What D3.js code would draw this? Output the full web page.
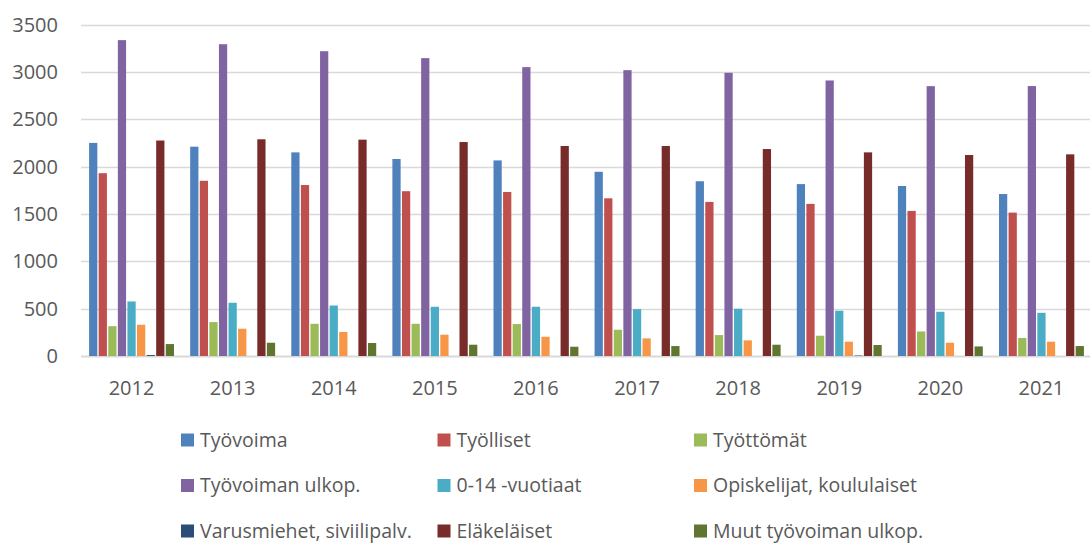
<!DOCTYPE html>
<html>
<head>
<meta charset="utf-8">
<script src="https://cdn.jsdelivr.net/npm/d3@7"></script>
<style>
  body { margin: 0; background: #fff; }
  text { font-family: "Open Sans", "Liberation Sans", sans-serif; fill: #595959; }
</style>
</head>
<body>
<svg id="chart"></svg>
<script>
// years on the x axis
var years = ["2012", "2013", "2014", "2015", "2016", "2017", "2018", "2019", "2020", "2021"];

// series names (legend order)
var seriesNames = ["Työvoima", "Työlliset", "Työttömät", "Työvoiman ulkop.", "0-14 -vuotiaat",
                   "Opiskelijat, koululaiset", "Varusmiehet, siviilipalv.", "Eläkeläiset", "Muut työvoiman ulkop."];

var seriesColors = ["#4F81BD", "#C0504D", "#9BBB59", "#8064A2", "#4BACC6",
                    "#F79646", "#2C4D75", "#772C2A", "#5F7530"];

// values per series, one per year
var tyovoima     = [2250, 2210, 2150, 2080, 2065, 1945, 1845, 1815, 1795, 1710];
var tyolliset    = [1930, 1850, 1805, 1740, 1732, 1665, 1627, 1606, 1532, 1514];
var tyottomat    = [315, 358, 340, 340, 337, 277, 221, 214, 259, 190];
var ulkop        = [3335, 3292, 3218, 3145, 3050, 3018, 2990, 2909, 2849, 2850];
var lapset       = [576, 562, 533, 520, 520, 495, 499, 478, 467, 456];
var opiskelijat  = [330, 288, 253, 225, 203, 186, 165, 151, 140, 151];
var varusmiehet  = [10, 0, 0, 0, 0, 0, 0, 5, 0, 0];
var elakelaiset  = [2275, 2288, 2284, 2259, 2217, 2217, 2185, 2150, 2122, 2129];
var muut         = [126, 140, 137, 119, 98, 105, 119, 116, 101, 105];

var yTicks = [0, 500, 1000, 1500, 2000, 2500, 3000, 3500];

var allSeries = [tyovoima, tyolliset, tyottomat, ulkop, lapset, opiskelijat, varusmiehet, elakelaiset, muut];

var width = 1090, height = 543;
var margin = { top: 24, left: 81, right: -2, bottom: 187 };

var svg = d3.select("#chart")
  .attr("width", width)
  .attr("height", height);

var x0 = d3.scaleBand()
  .domain(years)
  .range([margin.left, width - margin.right]);

var x1 = d3.scaleBand()
  .domain(seriesNames)
  .range([x0.bandwidth() * 0.08, x0.bandwidth() * 0.92])
  .paddingInner(0.14);

var y = d3.scaleLinear()
  .domain([0, 3500])
  .range([height - margin.bottom, margin.top + 0.5]);

var color = d3.scaleOrdinal().domain(seriesNames).range(seriesColors);

// gridlines
svg.append("g")
  .selectAll("line")
  .data(yTicks)
  .enter()
  .append("line")
  .attr("x1", margin.left)
  .attr("x2", width)
  .attr("y1", d => Math.round(y(d)) + 0.5)
  .attr("y2", d => Math.round(y(d)) + 0.5)
  .attr("stroke", "#d9d9d9")
  .attr("stroke-width", d => d === 0 ? 2 : 1.5);

// y tick labels
svg.append("g")
  .selectAll("text")
  .data(yTicks)
  .enter()
  .append("text")
  .attr("x", 58)
  .attr("y", d => y(d))
  .attr("dy", "0.36em")
  .attr("text-anchor", "end")
  .style("font-size", "20px")
  .text(d => d);

// x labels
svg.append("g")
  .selectAll("text")
  .data(years)
  .enter()
  .append("text")
  .attr("x", d => x0(d) + x0.bandwidth() / 2)
  .attr("y", 395)
  .attr("text-anchor", "middle")
  .style("font-size", "20px")
  .text(d => d);

// bars
var groups = svg.append("g")
  .selectAll("g.year")
  .data(years)
  .enter()
  .append("g")
  .attr("class", "year")
  .attr("transform", d => "translate(" + x0(d) + ",0)");

groups.selectAll("rect")
  .data((yr, i) => seriesNames.map((s, k) => ({ key: s, value: allSeries[k][i] })))
  .enter()
  .append("rect")
  .attr("x", d => x1(d.key))
  .attr("width", x1.bandwidth())
  .attr("y", d => y(d.value))
  .attr("height", d => y(0) - y(d.value))
  .attr("fill", d => color(d.key));

// legend, 3 columns
var legend = svg.append("g")
  .selectAll("g.item")
  .data(seriesNames)
  .enter()
  .append("g")
  .attr("class", "item")
  .attr("transform", (d, i) => "translate(" + (181 + (i % 3) * 256.5) + "," + (440 + Math.floor(i / 3) * 45.5) + ")");

legend.append("rect")
  .attr("x", 0)
  .attr("y", -6.5)
  .attr("width", 13)
  .attr("height", 13)
  .attr("fill", d => color(d));

legend.append("text")
  .attr("x", 19)
  .attr("y", 0)
  .attr("dy", "0.34em")
  .style("font-size", "19.5px")
  .text(d => d);
</script>
</body>
</html>
